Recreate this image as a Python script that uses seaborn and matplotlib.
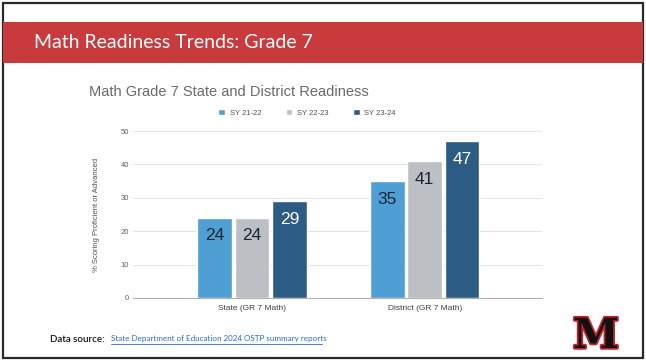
import matplotlib
matplotlib.use('Agg')
import pandas as pd
import seaborn as sns
import matplotlib.pyplot as plt
import matplotlib.patheffects as pe
from matplotlib.patches import Rectangle


# Chart data
groups = ['State (GR 7 Math)', 'District (GR 7 Math)']
years = ['SY 21-22', 'SY 22-23', 'SY 23-24']
state_values = [24, 24, 29]
district_values = [35, 41, 47]
year_colors = ['#4f9fd4', '#bcc0c4', '#2c5c84']
label_colors = ['#1c2530', '#1c2530', '#ffffff']
y_ticks = [0, 10, 20, 30, 40, 50]

slide_title = 'Math Readiness Trends: Grade 7'
chart_title = 'Math Grade 7 State and District Readiness'
y_label = '% Scoring Proficient or Advanced'
source_label = 'Data source:'
source_link = 'State Department of Education 2024 OSTP summary reports'

plot_data = pd.DataFrame(
    data={
        'group': [g for g in groups for _ in years],
        'year': years * len(groups),
        'value': state_values + district_values
    }
)

sns.set_style('white')
plt.rcParams['font.family'] = ['Liberation Sans', 'DejaVu Sans']

fig = plt.figure(figsize=(6.46, 3.64), dpi=100)
W, H = 646, 364

# Slide frame and red header banner
fig.patches.append(Rectangle((3 / W, 1 - 358 / H), 640 / W, 355 / H, transform=fig.transFigure,
                             facecolor='white', edgecolor='#2a2a2a', linewidth=1.6, zorder=-2))
fig.patches.append(Rectangle((3 / W, 1 - 63 / H), 640 / W, 41 / H, transform=fig.transFigure,
                             facecolor='#c83a3c', edgecolor='none', zorder=-1))
fig.text(34 / W, 1 - 43 / H, slide_title, color='white', fontsize=14, family='Lato',
         va='center', ha='left')

ax = fig.add_axes([133 / W, 1 - 298 / H, 409 / W, 167 / H])
ax.patch.set_alpha(0)
sns.barplot(data=plot_data, x='group', y='value', hue='year', palette=year_colors,
            width=0.65, gap=0.07, saturation=1, ax=ax, legend=True)

# Value labels inside the top of each bar
for container, color in zip(ax.containers, label_colors):
    for bar in container:
        ax.annotate(f'{bar.get_height():.0f}', (bar.get_x() + bar.get_width() / 2, bar.get_height()),
                    xytext=(0, -13), textcoords='offset points', ha='center', va='center',
                    fontsize=12.5, color=color)

ax.set_ylim(0, 50)
ax.set_xlim(-0.69, 1.68)
ax.set_yticks(y_ticks)
ax.tick_params(axis='y', labelsize=5.5, labelcolor='#606060', length=0, pad=3)
ax.tick_params(axis='x', labelsize=6, labelcolor='#404040', length=0, pad=5)
ax.set_xlabel('')
ax.set_ylabel(y_label, fontsize=5.5, color='#505050', labelpad=15)
ax.grid(axis='y', color='#e4e4e4', linewidth=0.7)
ax.set_axisbelow(True)
for side in ['top', 'right', 'left']:
    ax.spines[side].set_visible(False)
ax.spines['bottom'].set_color('#b0b0b0')
ax.spines['bottom'].set_linewidth(0.8)

handles, labels = ax.get_legend_handles_labels()
ax.get_legend().remove()
fig.legend(handles, labels, loc='center', bbox_to_anchor=(307 / W, 1 - 113 / H), ncol=3,
           frameon=False, fontsize=5.5, labelcolor='#505050', handlelength=0.9,
           handleheight=0.9, columnspacing=3.2, handletextpad=0.6)

fig.text(89 / W, 1 - 92 / H, chart_title, fontsize=10.5, color='#6a6a6a', va='center', ha='left')

# Data source footer
fig.text(50 / W, 1 - 339 / H, source_label, fontsize=7, family='Lato', weight='semibold',
         color='#111111', va='center', ha='left')
fig.text(111 / W, 1 - 339 / H, source_link, fontsize=5.8, family='Lato', color='#2a6ad0',
         va='center', ha='left')
fig.add_artist(plt.Line2D([111 / W, 322 / W], [1 - 344 / H, 1 - 344 / H], color='#2a6ad0',
                          linewidth=0.6, transform=fig.transFigure))

# School logo stand-in
fig.text(596 / W, 1 - 336 / H, 'M', fontsize=30, family='DejaVu Serif', weight='bold',
         color='#111111', ha='center', va='center',
         path_effects=[pe.withStroke(linewidth=2.5, foreground='#c8202a')])

fig.savefig('out.png', dpi=100)
